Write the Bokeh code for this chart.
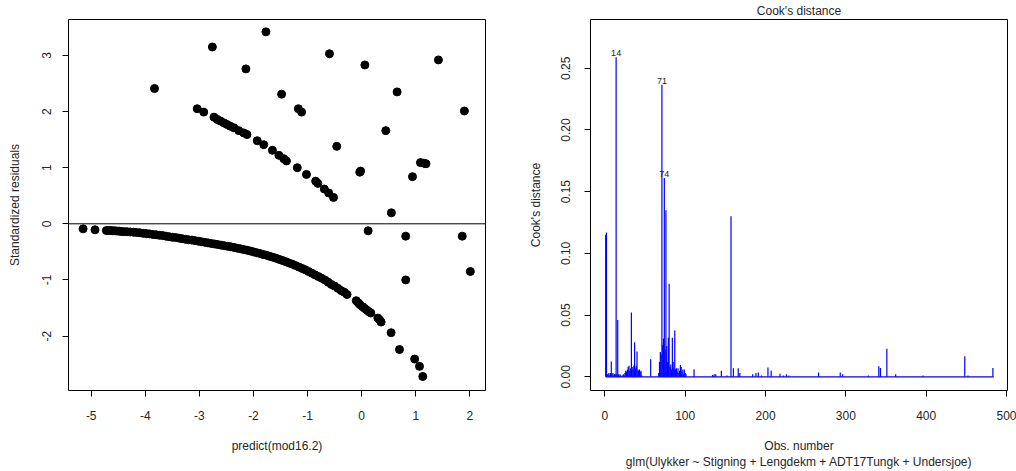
from bokeh.plotting import figure
from bokeh.layouts import row
from bokeh.models import FixedTicker, PrintfTickFormatter, Span, Title, ColumnDataSource
from bokeh.core.properties import value
from bokeh.embed import file_html
from bokeh.resources import INLINE

# ---------------- data: left panel (predict vs standardized residuals) ----------------
zero_x = [-5.15, -4.93, -4.72, -4.68, -4.64, -4.60, -4.56, -4.52, -4.48, -4.45,
          -4.40, -4.34, -4.28, -4.22, -4.16, -4.10, -4.04, -3.98, -3.92, -3.86,
          -3.80, -3.74, -3.68, -3.62, -3.56, -3.50, -3.44, -3.38, -3.32, -3.26,
          -3.20, -3.14, -3.08, -3.02, -2.96, -2.90, -2.84, -2.78, -2.72, -2.66,
          -2.60, -2.54, -2.48, -2.42, -2.36, -2.30, -2.24, -2.18, -2.12, -2.06,
          -2.00, -1.94, -1.88, -1.82, -1.76, -1.70, -1.64, -1.58, -1.52, -1.46,
          -1.40, -1.34, -1.28, -1.22, -1.16, -1.10, -1.04, -0.98, -0.92, -0.86,
          -0.80, -0.74, -0.68, -0.62, -0.56, -0.50, -0.44, -0.38, -0.32, -0.27,
          -0.10, -0.06, -0.03, 0.02, 0.06, 0.10, 0.14, 0.17, 0.30, 0.33,
          0.36, 0.545, 0.70, 0.98, 1.07, 1.13]
zero_y = [-0.09, -0.107, -0.12, -0.12, -0.12, -0.125, -0.125, -0.13, -0.13, -0.135,
          -0.14, -0.14, -0.145, -0.15, -0.155, -0.16, -0.17, -0.175, -0.18, -0.19,
          -0.195, -0.205, -0.21, -0.22, -0.23, -0.24, -0.245, -0.255, -0.265, -0.275,
          -0.285, -0.29, -0.30, -0.31, -0.32, -0.33, -0.34, -0.35, -0.36, -0.37,
          -0.38, -0.39, -0.40, -0.41, -0.42, -0.435, -0.445, -0.46, -0.47, -0.485,
          -0.50, -0.515, -0.53, -0.545, -0.56, -0.58, -0.595, -0.615, -0.635, -0.655,
          -0.675, -0.70, -0.72, -0.745, -0.77, -0.795, -0.82, -0.85, -0.88, -0.91,
          -0.94, -0.97, -1.00, -1.04, -1.08, -1.11, -1.15, -1.19, -1.22, -1.26,
          -1.37, -1.41, -1.44, -1.48, -1.51, -1.54, -1.57, -1.59, -1.68, -1.71,
          -1.75, -1.94, -2.24, -2.41, -2.54, -2.72]

one_x = [-3.04, -2.92, -2.73, -2.67, -2.61, -2.55, -2.49, -2.43, -2.36, -2.27,
         -2.18, -2.12, -1.93, -1.81, -1.65, -1.53, -1.44, -1.39, -1.19, -1.02,
         -0.85, -0.81, -0.69, -0.61, -0.52]
one_y = [2.05, 1.99, 1.90, 1.86, 1.83, 1.80, 1.77, 1.74, 1.71, 1.66,
         1.62, 1.59, 1.48, 1.41, 1.31, 1.22, 1.16, 1.12, 1.00, 0.88,
         0.76, 0.72, 0.62, 0.55, 0.47]

other_x = [-3.83, -2.76, -2.14, -1.77, -1.48, -1.17, -1.11, -0.595, -0.46, -0.02,
           -0.035, 0.06, 0.12, 0.446, 0.55, 0.656, 0.815, 0.815, 0.94, 1.087,
           1.19, 1.15, 1.42, 1.90, 1.86, 2.01]
other_y = [2.41, 3.15, 2.76, 3.42, 2.31, 2.05, 1.99, 3.03, 1.38, 0.94,
           0.92, 2.83, -0.125, 1.66, 0.196, 2.35, -0.22, -1.0, 0.84, 1.09,
           1.07, 1.08, 2.92, 2.01, -0.22, -0.85]

left_xticks = [-5, -4, -3, -2, -1, 0, 1, 2]
left_yticks = [-2, -1, 0, 1, 2, 3]

# ---------------- data: right panel (Cook's distance) ----------------
N_OBS = 484
cook_obs = [1, 2, 3, 4, 5, 6, 7, 8, 9, 10, 11, 12, 13, 14, 15, 16, 17, 18, 19, 20,
            22, 23, 24, 25, 26, 27, 28, 29, 30, 31, 32, 33, 34, 35, 36, 37, 38, 39, 40,
            41, 42, 43, 44, 45, 46, 57,
            67, 68, 69, 70, 71, 72, 73, 74, 75, 76, 77, 78, 79, 80, 81, 82, 83, 84,
            85, 86, 87, 88, 89, 90, 91, 92, 93, 94, 95, 96, 97, 98, 99, 100, 101,
            111, 134, 136, 138, 145, 152, 157, 160, 166, 168, 184, 188, 191, 195,
            203, 207, 218, 222, 226, 229, 266, 293, 296, 328, 341, 343, 351, 362,
            396, 448, 452, 483]
cook_val = [0.115, 0.117, 0.002, 0.002, 0.003, 0.001, 0.003, 0.0124, 0.002, 0.003,
            0.001, 0.002, 0.002, 0.259, 0.002, 0.046, 0.002, 0.001, 0.002, 0.001,
            0.001, 0.002, 0.001, 0.003, 0.005, 0.004, 0.006, 0.008, 0.009, 0.005,
            0.007, 0.052, 0.008, 0.006, 0.009, 0.028, 0.007, 0.009, 0.0205,
            0.006, 0.005, 0.006, 0.004, 0.005, 0.001, 0.0143,
            0.003, 0.012, 0.020, 0.018, 0.2366, 0.026, 0.031, 0.161, 0.022, 0.135,
            0.025, 0.012, 0.0317, 0.0753, 0.008, 0.010, 0.006, 0.0316,
            0.012, 0.007, 0.0375, 0.006, 0.007, 0.004, 0.007, 0.003, 0.005, 0.0095,
            0.008, 0.004, 0.006, 0.002, 0.006, 0.003, 0.002,
            0.0062, 0.0015, 0.002, 0.002, 0.005, 0.001, 0.130, 0.007, 0.007, 0.003,
            0.002, 0.003, 0.0035, 0.001,
            0.0075, 0.005, 0.0025, 0.001, 0.002, 0.001, 0.0035, 0.0035, 0.002, 0.001,
            0.0086, 0.0072, 0.0227, 0.002,
            0.001, 0.0167, 0.001, 0.0072]
labelled_obs = [14, 71, 74]

right_xticks = [0, 100, 200, 300, 400, 500]
right_yticks = [0.0, 0.05, 0.10, 0.15, 0.20, 0.25]

FONT = "Liberation Sans"
TXT = "#262626"


def style(p):
    p.grid.visible = False
    p.outline_line_color = "black"
    p.outline_line_alpha = 1.0
    p.outline_line_width = 1
    p.background_fill_color = "white"
    p.border_fill_color = "white"
    for ax in p.axis:
        ax.axis_line_color = None
        ax.major_tick_in = 0
        ax.major_tick_out = 6
        ax.major_tick_line_color = "black"
        ax.minor_tick_line_color = None
        ax.major_label_text_font = FONT
        ax.major_label_text_font_size = "12px"
        ax.major_label_text_color = TXT
        ax.axis_label_text_font = FONT
        ax.axis_label_text_font_size = "12px"
        ax.axis_label_text_font_style = "normal"
        ax.axis_label_text_color = TXT
    p.xaxis.major_label_standoff = 14
    p.xaxis.axis_label_standoff = 16
    p.yaxis.major_label_orientation = "vertical"


# ---------------- left figure ----------------
p1 = figure(width=500, height=471, x_range=(-5.42, 2.29), y_range=(-2.97, 3.64),
            output_backend="svg", toolbar_location=None,
            min_border_left=68, min_border_right=15, min_border_top=19, min_border_bottom=81)
style(p1)
p1.xaxis.ticker = FixedTicker(ticks=left_xticks)
p1.yaxis.ticker = FixedTicker(ticks=left_yticks)
p1.xaxis.formatter = PrintfTickFormatter(format="%d")
p1.yaxis.formatter = PrintfTickFormatter(format="%d")
p1.xaxis.axis_label = "predict(mod16.2)"
p1.yaxis.axis_label = "Standardized residuals"
p1.yaxis.major_label_standoff = 11
p1.yaxis.axis_label_standoff = 18

p1.add_layout(Span(location=0, dimension="width", line_color="black", line_width=1))
for xs, ys in ((zero_x, zero_y), (one_x, one_y), (other_x, other_y)):
    p1.scatter(xs, ys, size=8, marker="circle", fill_color="black", line_color="black")

# ---------------- right figure ----------------
p2 = figure(width=516, height=471, x_range=(-17.9, 501.2), y_range=(-0.0111, 0.2895),
            output_backend="svg", toolbar_location=None,
            min_border_left=90, min_border_right=9, min_border_top=19, min_border_bottom=81)
style(p2)
p2.title.text = "Cook's distance"
p2.title.align = "center"
p2.title.vertical_align = "top"
p2.title.text_font = FONT
p2.title.text_font_size = "12px"
p2.title.text_font_style = "normal"
p2.title.text_color = TXT
p2.title.standoff = 0
p2.xaxis.ticker = FixedTicker(ticks=right_xticks)
p2.yaxis.ticker = FixedTicker(ticks=right_yticks)
p2.xaxis.formatter = PrintfTickFormatter(format="%d")
p2.yaxis.formatter = PrintfTickFormatter(format="%.2f")
p2.xaxis.axis_label = "Obs. number"
p2.yaxis.axis_label = "Cook's distance"
p2.yaxis.major_label_standoff = 14
p2.yaxis.axis_label_standoff = 16
sub = Title(text="glm(Ulykker ~ Stigning + Lengdekm + ADT17Tungk + Undersjoe)",
            align="center", text_font=FONT, text_font_size="12px",
            text_font_style="normal", text_color=TXT, standoff=-5)
p2.add_layout(sub, "below")

src = ColumnDataSource(dict(obs=cook_obs, val=cook_val, zero=[0.0] * len(cook_obs)))
p2.segment(x0=[1], y0=[0.0], x1=[N_OBS], y1=[0.0], line_color="#0000ff", line_width=1.2)
p2.segment(x0="obs", y0="zero", x1="obs", y1="val", source=src, line_color="#0000ff", line_width=1.2)

lab_y = [cook_val[cook_obs.index(o)] for o in labelled_obs]
p2.text(x=labelled_obs, y=lab_y, text=[str(o) for o in labelled_obs],
        text_align="center", text_baseline="bottom", y_offset=-1,
        text_font=value(FONT), text_font_size="9px", text_color=TXT)

layout = row(p1, p2)
open("out.html", "w").write(file_html(layout, INLINE))
